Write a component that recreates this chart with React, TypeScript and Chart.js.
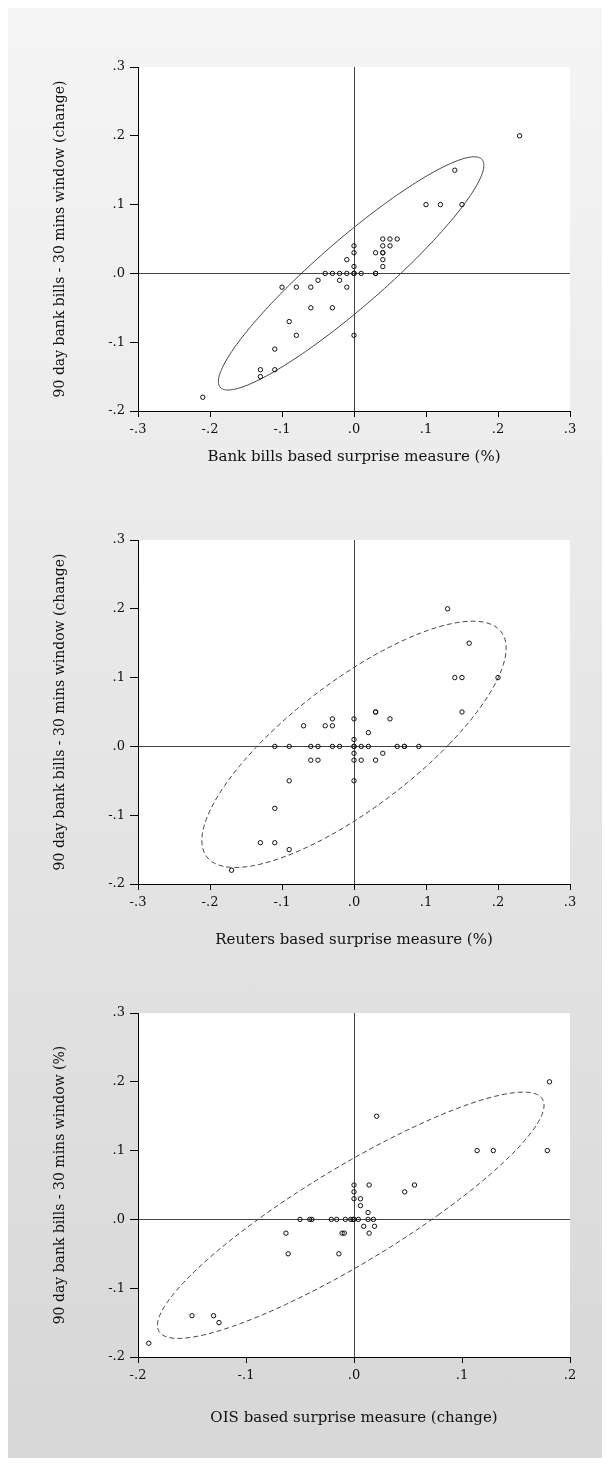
import React, { useEffect, useRef } from 'react';
import { Chart, registerables } from 'chart.js';

Chart.register(...registerables);

// ---------- data ----------
const bankBillsX = [-0.21, -0.13, -0.13, -0.11, -0.11, -0.09, -0.08, -0.10, -0.08, -0.06, -0.06, -0.03, -0.05, -0.04, -0.03, -0.02, -0.02, -0.01, -0.01, -0.01, 0, 0, 0.01, 0, 0, 0, 0, 0.03, 0.03, 0.03, 0.04, 0.04, 0.04, 0.04, 0.04, 0.05, 0.04, 0.05, 0.06, 0.10, 0.12, 0.15, 0.14, 0.23];
const bankBillsY = [-0.18, -0.14, -0.15, -0.14, -0.11, -0.07, -0.09, -0.02, -0.02, -0.02, -0.05, -0.05, -0.01, 0, 0, 0, -0.01, 0, 0.02, -0.02, 0, 0, 0, 0.01, 0.03, 0.04, -0.09, 0, 0, 0.03, 0.03, 0.03, 0.02, 0.01, 0.04, 0.04, 0.05, 0.05, 0.05, 0.10, 0.10, 0.10, 0.15, 0.20];

const reutersX = [-0.17, -0.13, -0.11, -0.09, -0.11, -0.09, -0.11, -0.09, -0.06, -0.05, -0.03, -0.02, -0.06, -0.05, -0.07, -0.04, -0.03, -0.03, 0, 0.02, 0.03, 0.03, 0.05, 0, 0, 0, 0.01, 0.02, 0.06, 0.07, 0.07, 0.09, 0, 0.04, 0, 0.01, 0.03, 0, 0.13, 0.16, 0.14, 0.15, 0.20, 0.15];
const reutersY = [-0.18, -0.14, -0.14, -0.15, -0.09, -0.05, 0, 0, 0, 0, 0, 0, -0.02, -0.02, 0.03, 0.03, 0.03, 0.04, 0.04, 0.02, 0.05, 0.05, 0.04, 0.01, 0, 0, 0, 0, 0, 0, 0, 0, -0.01, -0.01, -0.02, -0.02, -0.02, -0.05, 0.20, 0.15, 0.10, 0.10, 0.10, 0.05];

const oisX = [-0.19, -0.15, -0.13, -0.125, -0.063, -0.061, -0.05, -0.041, -0.039, -0.021, -0.016, -0.014, -0.011, -0.009, -0.008, -0.003, -0.001, 0.0, 0.004, 0.013, 0.018, 0.009, 0.019, 0.014, 0.013, 0.006, 0, 0.006, 0, 0, 0.014, 0.047, 0.056, 0.021, 0.114, 0.129, 0.179, 0.181];
const oisY = [-0.18, -0.14, -0.14, -0.15, -0.02, -0.05, 0, 0, 0, 0, 0, -0.05, -0.02, -0.02, 0, 0, 0, 0, 0, 0, 0, -0.01, -0.01, -0.02, 0.01, 0.02, 0.03, 0.03, 0.04, 0.05, 0.05, 0.04, 0.05, 0.15, 0.10, 0.10, 0.10, 0.20];

const seriesX = [bankBillsX, reutersX, oisX];
const seriesY = [bankBillsY, reutersY, oisY];

const xTitles = [
  'Bank bills based surprise measure (%)',
  'Reuters based surprise measure (%)',
  'OIS based surprise measure (change)',
];
const yTitles = [
  '90 day bank bills - 30 mins window (change)',
  '90 day bank bills - 30 mins window (change)',
  '90 day bank bills - 30 mins window (%)',
];

const xTickValues = [
  [-0.3, -0.2, -0.1, 0, 0.1, 0.2, 0.3],
  [-0.3, -0.2, -0.1, 0, 0.1, 0.2, 0.3],
  [-0.2, -0.1, 0, 0.1, 0.2],
];
const xTickLabels = [
  ['-.3', '-.2', '-.1', '.0', '.1', '.2', '.3'],
  ['-.3', '-.2', '-.1', '.0', '.1', '.2', '.3'],
  ['-.2', '-.1', '.0', '.1', '.2'],
];
const yTickValues = [-0.2, -0.1, 0, 0.1, 0.2, 0.3];
const yTickLabels = ['-.2', '-.1', '.0', '.1', '.2', '.3'];

// confidence ellipses: centre + two conjugate semi-diameters (data units)
const ellipseCenterX = [-0.004, 0.0, -0.003];
const ellipseCenterY = [0.0, 0.003, 0.006];
const ellipseUX = [0.069, 0.132, 0.0806];
const ellipseVX = [0.171, 0.165, 0.1598];
const ellipseVY = [0.1695, 0.179, 0.179];
const ellipseDashed = [false, true, true];

// ---------- layout ----------
const CANVAS_W = 594;
const CANVAS_H = 473;
const FONT = '"DejaVu Serif", "Liberation Serif", serif';
const xTitlePad = [15, 5, 0];

const decorPlugin = {
  id: 'decor',
  beforeDraw(chart: any) {
    const { ctx, chartArea } = chart;
    ctx.save();
    ctx.fillStyle = '#ffffff';
    ctx.fillRect(chartArea.left, chartArea.top, chartArea.right - chartArea.left, chartArea.bottom - chartArea.top);
    ctx.restore();
  },
  beforeDatasetsDraw(chart: any, _args: any, opts: any) {
    const i = opts.index;
    if (i === undefined) return;
    const { ctx, chartArea } = chart;
    const xs = chart.scales.x;
    const ys = chart.scales.y;
    ctx.save();
    ctx.beginPath();
    ctx.rect(chartArea.left, chartArea.top, chartArea.right - chartArea.left, chartArea.bottom - chartArea.top);
    ctx.clip();
    ctx.strokeStyle = '#444';
    ctx.lineWidth = 1;
    if (ellipseDashed[i]) ctx.setLineDash([5, 3]);
    ctx.beginPath();
    const n = 240;
    for (let k = 0; k <= n; k++) {
      const t = (k / n) * Math.PI * 2;
      const dx = ellipseCenterX[i] + ellipseUX[i] * Math.cos(t) + ellipseVX[i] * Math.sin(t);
      const dy = ellipseCenterY[i] + ellipseVY[i] * Math.sin(t);
      const px = xs.getPixelForValue(dx);
      const py = ys.getPixelForValue(dy);
      if (k === 0) ctx.moveTo(px, py);
      else ctx.lineTo(px, py);
    }
    ctx.closePath();
    ctx.stroke();
    ctx.restore();
  },
};

function ScatterPanel({ index, top }: { index: number; top: number }) {
  const ref = useRef<HTMLCanvasElement>(null);
  useEffect(() => {
    const xv = xTickValues[index];
    const chart = new Chart(ref.current as HTMLCanvasElement, {
      type: 'scatter',
      data: {
        datasets: [
          {
            data: seriesX[index].map((x, k) => ({ x, y: seriesY[index][k] })),
            pointRadius: 2.2,
            pointHoverRadius: 2.2,
            pointBorderWidth: 1,
            pointBorderColor: '#111',
            pointBackgroundColor: 'rgba(0,0,0,0)',
          },
        ],
      },
      options: {
        animation: false,
        responsive: false,
        events: [],
        layout: { padding: { left: 0, top: 59, right: 32, bottom: 0 } },
        plugins: {
          legend: { display: false },
          tooltip: { enabled: false },
          decor: { index },
        } as any,
        scales: {
          x: {
            type: 'linear',
            min: xv[0],
            max: xv[xv.length - 1],
            afterBuildTicks: (s: any) => {
              s.ticks = xv.map((v) => ({ value: v }));
            },
            afterFit: (s: any) => {
              s.height = 70;
            },
            ticks: {
              autoSkip: false,
              maxRotation: 0,
              padding: 5,
              color: '#111',
              font: { family: FONT, size: 13 },
              callback: (_v: any, k: number) => xTickLabels[index][k],
            },
            grid: {
              color: (c: any) => (c.tick && c.tick.value === 0 ? '#444' : 'rgba(0,0,0,0)'),
              tickColor: '#000',
              tickLength: 6,
              lineWidth: 1,
            },
            border: { display: true, color: '#000', width: 1 },
            title: {
              display: true,
              text: xTitles[index],
              color: '#111',
              font: { family: FONT, size: 15 },
              padding: { top: 0, bottom: xTitlePad[index] },
            },
          },
          y: {
            type: 'linear',
            min: -0.2,
            max: 0.3,
            afterBuildTicks: (s: any) => {
              s.ticks = yTickValues.map((v) => ({ value: v }));
            },
            afterFit: (s: any) => {
              s.width = 130;
            },
            ticks: {
              autoSkip: false,
              padding: 5,
              color: '#111',
              font: { family: FONT, size: 13 },
              callback: (_v: any, k: number) => yTickLabels[k],
            },
            grid: {
              color: (c: any) => (c.tick && c.tick.value === 0 ? '#444' : 'rgba(0,0,0,0)'),
              tickColor: '#000',
              tickLength: 8,
              lineWidth: 1,
            },
            border: { display: true, color: '#000', width: 1 },
            title: {
              display: true,
              text: yTitles[index],
              color: '#111',
              font: { family: FONT, size: 14 },
              padding: { top: 43.6, bottom: 0 },
            },
          },
        },
      } as any,
      plugins: [decorPlugin],
    });
    return () => chart.destroy();
  }, [index]);
  return (
    <canvas
      ref={ref}
      width={CANVAS_W}
      height={CANVAS_H}
      style={{ position: 'absolute', left: 0, top, width: CANVAS_W, height: CANVAS_H }}
    />
  );
}

export default function App() {
  return (
    <div
      style={{
        position: 'relative',
        width: 594,
        height: 1450,
        background: 'linear-gradient(to bottom, #f5f5f5 0%, #d7d7d7 100%)',
      }}
    >
      <ScatterPanel index={0} top={0} />
      <ScatterPanel index={1} top={473} />
      <ScatterPanel index={2} top={946} />
    </div>
  );
}
